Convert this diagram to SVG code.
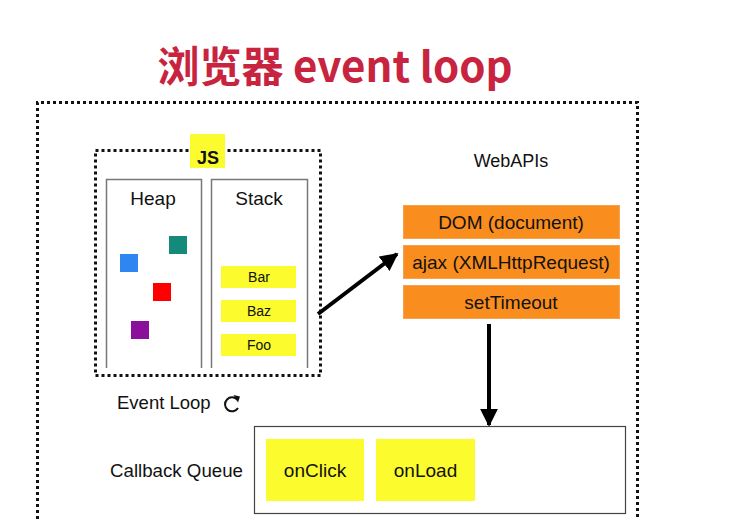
<svg xmlns="http://www.w3.org/2000/svg" width="736" height="520" viewBox="0 0 736 520">
<style>
.t{font-family:"Liberation Sans",Arial,sans-serif;fill:#111}
.dot{fill:none;stroke:#111;stroke-width:3;stroke-dasharray:3 3}
.col{fill:none;stroke:#777;stroke-width:1.5}
.yel{fill:#fbfb2e}
.org{fill:#f98d1e;stroke:#f4a451;stroke-width:1}
.con{stroke:#000;stroke-width:4;fill:none}
</style>
<defs>
<marker id="ah" viewBox="0 0 10 10" refX="9" refY="5" markerWidth="4.5" markerHeight="4.5" orient="auto" markerUnits="strokeWidth">
<path d="M0,0 L10,5 L0,10 z" fill="#000"/>
</marker>
</defs>
<rect width="736" height="520" fill="#fff"/>
<g id="title">
<text x="335" y="82" text-anchor="middle" font-family="'Noto Sans CJK SC','Liberation Sans',sans-serif" font-weight="bold" font-size="42" fill="#c8243f">浏览器 event loop</text>
</g>
<g id="browser">
<path class="dot" d="M37.5,525 V102.5 H637.5 V525"/>
</g>
<g id="js">
<rect class="dot" x="95.5" y="150.5" width="225" height="225"/>
<rect class="yel" x="190" y="134" width="35" height="34"/>
<text class="t" x="208" y="164" text-anchor="middle" font-size="18" font-weight="bold">JS</text>
</g>
<g id="heap">
<path class="col" d="M106.5,368 V179.5 H201.5 V368"/>
<text class="t" x="153" y="205" text-anchor="middle" font-size="19">Heap</text>
<rect x="169" y="236" width="18" height="18" fill="#138a7a"/>
<rect x="120" y="254" width="18" height="18" fill="#2f86f0"/>
<rect x="153" y="283" width="18" height="18" fill="#ff0000"/>
<rect x="131" y="321" width="18" height="18" fill="#8a0f9a"/>
</g>
<g id="stack">
<path class="col" d="M211.5,368 V179.5 H307.5 V368"/>
<text class="t" x="259" y="205" text-anchor="middle" font-size="19">Stack</text>
<g id="bar"><rect class="yel" x="221" y="266" width="75" height="22"/><text class="t" x="259" y="282" text-anchor="middle" font-size="14">Bar</text></g>
<g id="baz"><rect class="yel" x="221" y="300" width="75" height="22"/><text class="t" x="259" y="316" text-anchor="middle" font-size="14">Baz</text></g>
<g id="foo"><rect class="yel" x="221" y="334" width="75" height="22"/><text class="t" x="259" y="350" text-anchor="middle" font-size="14">Foo</text></g>
</g>
<g id="webapis">
<text class="t" x="511" y="167" text-anchor="middle" font-size="18">WebAPIs</text>
<g id="dom"><rect class="org" x="403.5" y="205.5" width="216" height="33"/><text class="t" x="511" y="229" text-anchor="middle" font-size="19">DOM (document)</text></g>
<g id="ajax"><rect class="org" x="403.5" y="245.5" width="216" height="33"/><text class="t" x="511" y="269" text-anchor="middle" font-size="19">ajax (XMLHttpRequest)</text></g>
<g id="settimeout"><rect class="org" x="403.5" y="285.5" width="216" height="33"/><text class="t" x="511" y="309" text-anchor="middle" font-size="19">setTimeout</text></g>
</g>
<g id="eventloop">
<text class="t" x="117" y="409" font-size="18.5">Event Loop</text>
<path d="M237.5,400 A7,7 0 1 0 238,408" fill="none" stroke="#111" stroke-width="2"/>
<path d="M233.5,395 L240,396.5 L238,402.5 z" fill="#111"/>
</g>
<g id="queue">
<text class="t" x="110" y="477" font-size="18.7">Callback Queue</text>
<rect x="254.5" y="426.5" width="371" height="87" fill="#fff" stroke="#444" stroke-width="1.2"/>
<g id="onclick"><rect class="yel" x="266" y="439" width="98" height="62"/><text class="t" x="315" y="477" text-anchor="middle" font-size="19">onClick</text></g>
<g id="onload"><rect class="yel" x="376" y="439" width="99" height="62"/><text class="t" x="425.5" y="477" text-anchor="middle" font-size="19">onLoad</text></g>
</g>
<g id="connectors">
<line class="con" x1="318" y1="314" x2="397" y2="254" marker-end="url(#ah)"/>
<line class="con" x1="489" y1="324" x2="489" y2="425" marker-end="url(#ah)"/>
</g>
</svg>
